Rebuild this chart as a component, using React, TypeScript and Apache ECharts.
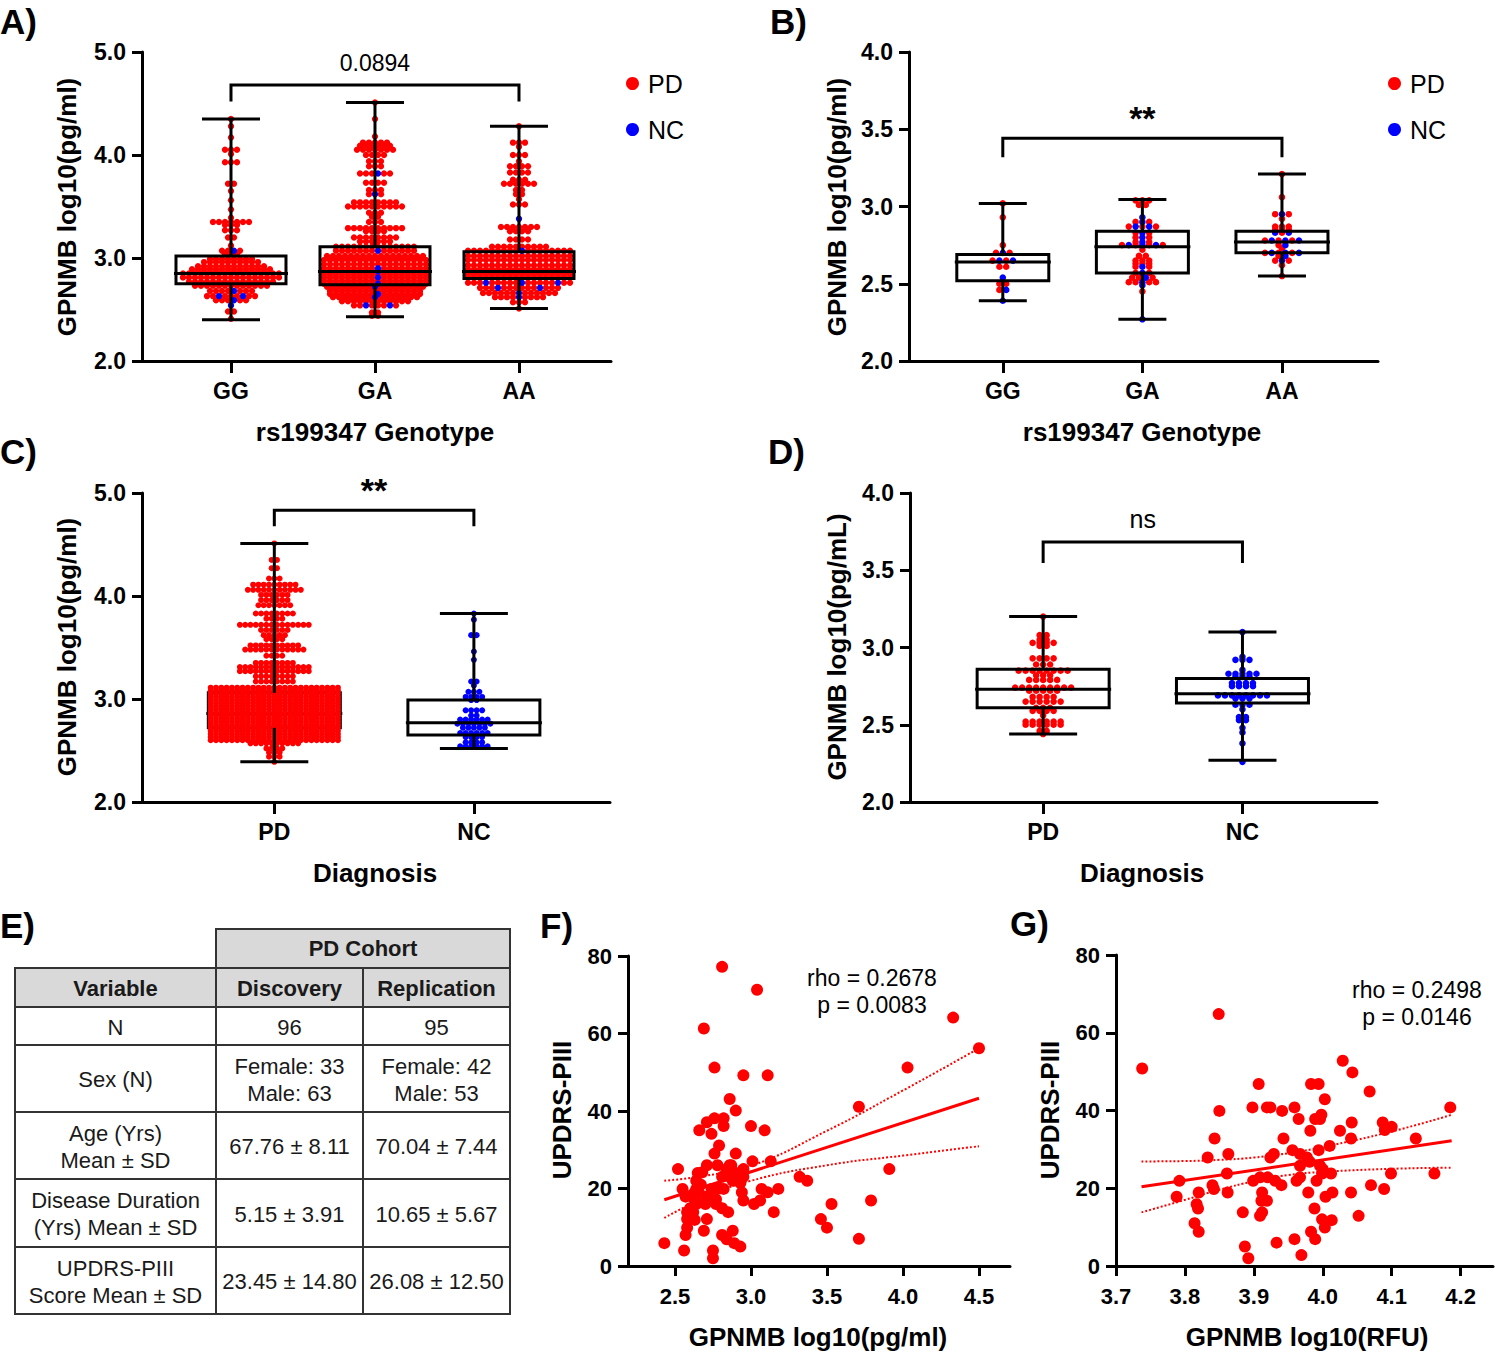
import React, { useEffect, useRef } from "react";
import * as echarts from "echarts";

const FONT = "'Liberation Sans', Arial, Helvetica, sans-serif";
const RED = "#ff0000";
const BLUE = "#0000ff";

// ---------- category / tick labels ----------
const genotypeLabels = ["GG", "GA", "AA"];
const diagnosisLabels = ["PD", "NC"];
const ticksF = [2.5, 3.0, 3.5, 4.0, 4.5];
const ticksG = [3.7, 3.8, 3.9, 4.0, 4.1, 4.2];

// ---------- box statistics: [position, min, q1, median, q3, max] ----------
const boxA = [
  [1, 2.40, 2.75, 2.85, 3.02, 4.35],
  [2, 2.43, 2.74, 2.87, 3.11, 4.51],
  [3, 2.51, 2.80, 2.87, 3.06, 4.28],
];
const boxB = [
  [1, 2.39, 2.52, 2.64, 2.69, 3.02],
  [2, 2.27, 2.57, 2.74, 2.84, 3.045],
  [3, 2.55, 2.70, 2.77, 2.84, 3.21],
];
const boxC_PD = [[1, 2.39, 2.72, 2.86, 3.06, 4.51]];
const boxC_NC = [[2, 2.52, 2.65, 2.77, 2.99, 3.83]];
const boxD = [
  [1, 2.44, 2.61, 2.73, 2.86, 3.20],
  [2, 2.27, 2.64, 2.70, 2.80, 3.10],
];

// ---------- swarm rows: [value, PD count, NC count] ----------
const swarmA_GG = [
  [4.35, 1, 0], [4.28, 1, 0], [4.17, 1, 0], [4.05, 3, 0], [4.01, 1, 0], [3.93, 3, 0], [3.72, 2, 0],
  [3.65, 1, 0], [3.56, 1, 0], [3.47, 1, 0], [3.39, 1, 0], [3.35, 7, 0], [3.32, 3, 0], [3.27, 3, 0],
  [3.20, 2, 0], [3.12, 1, 0], [3.07, 3, 1], [3.04, 3, 0], [2.99, 8, 0], [2.96, 10, 0], [2.92, 12, 0],
  [2.89, 14, 0], [2.85, 17, 0], [2.81, 17, 0], [2.77, 15, 0], [2.73, 13, 0], [2.68, 7, 1], [2.63, 7, 2],
  [2.59, 5, 1], [2.54, 0, 1], [2.48, 2, 0], [2.41, 1, 0],
];
const swarmA_GA = [
  [4.51, 1, 0], [4.35, 1, 0], [4.18, 1, 0], [4.12, 5, 0], [4.09, 6, 0], [4.05, 7, 0], [4.00, 4, 0],
  [3.94, 3, 0], [3.89, 3, 0], [3.82, 5, 1], [3.73, 4, 0], [3.66, 3, 0], [3.62, 2, 1], [3.54, 8, 0],
  [3.50, 10, 0], [3.44, 3, 0], [3.40, 2, 0], [3.35, 3, 0], [3.29, 10, 0], [3.26, 4, 0], [3.20, 8, 0],
  [3.16, 6, 0], [3.11, 14, 0], [3.07, 13, 1], [3.02, 17, 0], [2.98, 18, 0], [2.94, 18, 0], [2.90, 17, 1],
  [2.87, 17, 1], [2.84, 18, 0], [2.81, 17, 1], [2.78, 18, 0], [2.75, 17, 1], [2.72, 16, 1], [2.68, 16, 0],
  [2.65, 15, 1], [2.62, 14, 1], [2.58, 12, 0], [2.54, 6, 2], [2.47, 2, 0], [2.44, 2, 0],
];
const swarmA_AA = [
  [4.28, 1, 0], [4.12, 3, 0], [4.08, 1, 0], [4.00, 3, 0], [3.94, 1, 0], [3.89, 4, 0], [3.83, 4, 0],
  [3.76, 3, 0], [3.72, 6, 0], [3.66, 2, 0], [3.62, 2, 0], [3.57, 1, 0], [3.52, 3, 0], [3.38, 0, 1],
  [3.30, 7, 0], [3.26, 4, 0], [3.18, 4, 0], [3.11, 10, 0], [3.07, 17, 1], [3.02, 18, 0], [2.98, 18, 0],
  [2.93, 18, 0], [2.89, 18, 0], [2.86, 18, 0], [2.84, 18, 0], [2.81, 18, 0], [2.76, 15, 3], [2.71, 12, 2],
  [2.66, 12, 1], [2.62, 8, 1], [2.57, 3, 0], [2.51, 1, 0],
];
const swarmB_GG = [
  [3.02, 1, 0], [2.93, 1, 0], [2.75, 1, 0], [2.70, 2, 1], [2.65, 2, 2], [2.61, 2, 0], [2.54, 0, 1],
  [2.50, 2, 0], [2.46, 1, 1], [2.39, 0, 1],
];
const swarmB_GA = [
  [3.04, 3, 0], [3.01, 2, 0], [2.93, 0, 1], [2.90, 2, 1], [2.87, 3, 2], [2.83, 2, 1], [2.80, 2, 1],
  [2.77, 2, 1], [2.75, 4, 3], [2.72, 1, 0], [2.68, 2, 0], [2.65, 3, 0], [2.63, 3, 0], [2.61, 2, 1],
  [2.57, 2, 1], [2.54, 3, 1], [2.51, 4, 1], [2.49, 0, 1], [2.45, 1, 0], [2.27, 0, 1],
];
const swarmB_AA = [
  [3.21, 1, 0], [3.06, 1, 0], [2.95, 2, 1], [2.92, 1, 0], [2.87, 3, 0], [2.85, 3, 0], [2.83, 1, 2],
  [2.78, 3, 3], [2.75, 1, 1], [2.73, 1, 0], [2.70, 3, 3], [2.68, 1, 1], [2.65, 2, 1], [2.62, 1, 0],
  [2.55, 1, 0],
];
const swarmC_PD = [
  [4.51, 1, 0], [4.35, 2, 0], [4.27, 2, 0], [4.17, 3, 0], [4.11, 9, 0], [4.06, 11, 0], [4.01, 6, 0],
  [3.96, 6, 0], [3.91, 7, 0], [3.83, 8, 0], [3.78, 4, 0], [3.72, 14, 0], [3.67, 6, 0], [3.62, 5, 0],
  [3.58, 4, 0], [3.52, 10, 0], [3.48, 12, 0], [3.42, 4, 0], [3.35, 8, 0], [3.31, 14, 0], [3.27, 14, 0],
  [3.22, 8, 0], [3.17, 8, 0], [3.11, 25, 0], [3.08, 25, 0], [3.05, 25, 0], [3.02, 25, 0], [2.99, 25, 0],
  [2.96, 25, 0], [2.93, 25, 0], [2.90, 25, 0], [2.87, 25, 0], [2.84, 25, 0], [2.81, 25, 0], [2.78, 25, 0],
  [2.75, 25, 0], [2.72, 25, 0], [2.69, 25, 0], [2.66, 25, 0], [2.63, 25, 0], [2.60, 25, 0], [2.57, 10, 0],
  [2.52, 4, 0], [2.48, 3, 0], [2.44, 3, 0], [2.39, 1, 0],
];
const swarmC_NC = [
  [3.83, 0, 1], [3.77, 0, 1], [3.62, 0, 2], [3.46, 0, 1], [3.38, 0, 1], [3.17, 0, 2], [3.13, 0, 1],
  [3.07, 0, 3], [3.02, 0, 4], [2.99, 0, 2], [2.89, 0, 4], [2.84, 0, 2], [2.80, 0, 6], [2.76, 0, 7],
  [2.72, 0, 5], [2.67, 0, 6], [2.63, 0, 4], [2.58, 0, 4], [2.54, 0, 6],
];
const swarmD_PD = [
  [3.20, 1, 0], [3.08, 2, 0], [3.05, 2, 0], [3.03, 4, 0], [3.01, 2, 0], [2.93, 4, 0], [2.89, 3, 0],
  [2.85, 8, 0], [2.82, 3, 0], [2.79, 5, 0], [2.74, 9, 0], [2.72, 5, 0], [2.68, 4, 0], [2.65, 6, 0],
  [2.61, 3, 0], [2.59, 4, 0], [2.56, 1, 0], [2.52, 6, 0], [2.50, 6, 0], [2.46, 2, 0], [2.44, 1, 0],
];
const swarmD_NC = [
  [3.10, 0, 1], [2.94, 0, 1], [2.92, 0, 3], [2.855, 0, 1], [2.83, 0, 5], [2.81, 0, 3], [2.77, 0, 4],
  [2.75, 0, 4], [2.69, 0, 8], [2.67, 0, 3], [2.63, 0, 3], [2.60, 0, 1], [2.55, 0, 2], [2.53, 0, 2],
  [2.48, 0, 1], [2.45, 0, 1], [2.38, 0, 1], [2.26, 0, 1],
];

// ---------- significance brackets: [from, to, bar value, leg end value] ----------
const sigA = [1, 3, 4.68, 4.52];
const sigB = [1, 3, 3.441, 3.318];
const sigC = [1, 2, 4.832, 4.677];
const sigD = [1, 2, 3.683, 3.547];
const sigLabels = ["0.0894", "**", "**", "ns"];

// ---------- scatter F ----------
const scatterF = [
  [2.81, 77.2], [3.04, 71.3], [2.69, 61.3], [4.33, 64.1], [4.50, 56.2], [2.76, 51.2], [2.95, 49.2],
  [3.11, 49.2], [4.03, 51.2], [2.86, 43.1], [2.90, 40.1], [3.71, 41.1], [2.71, 37.1], [2.76, 38.1],
  [2.82, 38.1], [2.82, 36.1], [2.66, 35.0], [2.74, 34.1], [3.00, 36.1], [3.09, 35.0], [2.79, 31.1],
  [2.76, 29.0], [2.90, 29.0], [3.13, 27.0], [3.01, 27.0], [2.71, 26.0], [2.78, 26.0], [2.86, 26.0],
  [2.52, 25.0], [3.91, 25.0], [2.65, 24.0], [2.84, 25.0], [2.95, 25.0], [2.81, 23.0], [2.95, 23.0],
  [3.32, 23.0], [3.37, 22.0], [2.64, 22.0], [2.88, 22.0], [2.55, 19.9], [2.64, 19.9], [2.74, 19.9],
  [2.82, 19.9], [3.07, 19.9], [3.18, 19.9], [2.94, 19.0], [3.11, 19.0], [2.57, 17.9], [2.63, 17.9],
  [3.79, 16.9], [2.71, 17.9], [2.95, 16.9], [3.06, 16.9], [2.70, 16.0], [2.77, 16.0], [2.81, 14.9],
  [3.02, 16.0], [3.53, 16.0], [2.58, 13.9], [2.62, 13.9], [2.85, 13.9], [3.15, 13.9], [2.58, 12.1],
  [2.71, 12.1], [2.63, 11.9], [3.46, 12.1], [2.58, 9.9], [2.69, 9.1], [2.88, 9.1], [3.50, 9.9],
  [2.57, 8.0], [2.81, 8.0], [2.84, 6.9], [2.89, 5.9], [2.93, 5.0], [2.43, 5.9], [3.71, 7.0],
  [2.56, 4.0], [2.75, 4.0], [2.75, 2.0], [2.60, 14.9], [2.64, 16.0], [2.63, 19.0], [2.66, 18.8],
  [2.61, 13.0], [2.71, 16.6], [2.90, 24.0], [2.85, 23.2], [2.93, 21.4], [2.67, 21.0], [2.87, 26.0],
  [2.63, 17.0], [2.68, 24.2], [2.79, 20.0], [2.77, 17.2],
];
const fitF = [[2.43, 17.1], [4.50, 43.3]];
const ciUpperF = [[2.43, 22.0], [2.7, 23.3], [3.0, 25.8], [3.5, 34.9], [4.0, 45.3], [4.5, 56.2]];
const ciLowerF = [[2.43, 12.4], [2.7, 17.7], [3.0, 22.0], [3.5, 26.0], [4.0, 28.5], [4.5, 30.9]];
const statsF = "rho = 0.2678\np = 0.0083";

// ---------- scatter G ----------
const scatterG = [
  [3.738, 50.8], [3.849, 64.8], [4.029, 52.8], [4.043, 49.8], [3.907, 46.8], [3.983, 46.8], [3.994, 46.8],
  [4.068, 44.9], [4.003, 42.9], [3.898, 40.8], [3.919, 40.8], [3.924, 40.8], [3.959, 40.8], [4.185, 40.8],
  [3.850, 39.9], [3.941, 39.9], [3.998, 38.9], [3.965, 37.8], [3.989, 37.8], [3.996, 37.8], [4.087, 36.9],
  [4.042, 36.9], [4.100, 35.8], [4.090, 35.0], [4.025, 34.8], [3.982, 34.8], [3.843, 32.8], [3.943, 32.8],
  [4.041, 32.8], [4.135, 32.8], [4.010, 30.9], [3.994, 29.8], [3.956, 29.8], [3.929, 28.8], [3.863, 28.8],
  [3.967, 28.8], [3.833, 27.9], [3.924, 27.9], [3.977, 27.9], [3.981, 26.8], [3.967, 25.8], [3.996, 25.8],
  [4.000, 24.9], [3.861, 23.8], [4.012, 23.8], [4.099, 23.8], [4.162, 23.8], [3.999, 23.8], [3.967, 22.8],
  [3.909, 22.8], [3.920, 22.8], [3.792, 21.9], [3.899, 21.9], [3.931, 21.9], [3.962, 21.9], [3.991, 21.9],
  [3.840, 20.8], [3.940, 20.8], [4.070, 20.8], [3.842, 19.8], [4.089, 19.8], [3.820, 18.9], [3.862, 18.9],
  [3.912, 18.9], [3.979, 18.9], [4.014, 18.9], [4.041, 18.9], [4.004, 17.8], [3.788, 17.8], [3.911, 16.8],
  [3.919, 16.8], [3.817, 15.9], [3.819, 14.8], [3.988, 14.8], [3.884, 13.8], [3.912, 13.8], [3.909, 12.9],
  [4.052, 12.9], [3.814, 11.0], [3.999, 12.0], [4.013, 11.8], [4.003, 9.9], [3.820, 8.8], [3.983, 8.8],
  [3.989, 6.9], [3.933, 6.0], [3.959, 6.9], [3.887, 5.0], [3.969, 2.8], [3.892, 2.0],
];
const fitG = [[3.737, 20.4], [4.187, 32.2]];
const ciUpperG = [[3.737, 26.9], [3.8, 27.0], [3.85, 27.3], [3.9, 27.9], [3.95, 29.0], [4.0, 30.6], [4.1, 34.6], [4.187, 38.9]];
const ciLowerG = [[3.737, 13.8], [3.8, 17.0], [3.85, 19.6], [3.9, 21.8], [3.95, 23.4], [4.0, 24.2], [4.1, 25.0], [4.187, 25.3]];
const statsG = "rho = 0.2498\np = 0.0146";

// ---------- table E ----------
const tableGroupHeader = "PD Cohort";
const tableHeader = ["Variable", "Discovery", "Replication"];
const tableRows = [
  ["N", "96", "95"],
  ["Sex (N)", "Female: 33\nMale: 63", "Female: 42\nMale: 53"],
  ["Age (Yrs)\nMean ± SD", "67.76 ± 8.11", "70.04 ± 7.44"],
  ["Disease Duration\n(Yrs) Mean ± SD", "5.15 ± 3.91", "10.65 ± 5.67"],
  ["UPDRS-PIII\nScore Mean ± SD", "23.45 ± 14.80", "26.08 ± 12.50"],
];

// ---------- layout (pixels) ----------
const tableColX = [15, 216, 363, 510];
const tableRowY = [929, 968, 1007, 1045, 1112, 1179, 1247, 1314];

function buildSwarm(pos: number, rows: number[][]) {
  const pd: number[][] = [];
  const nc: number[][] = [];
  rows.forEach(([v, p, c]) => {
    const n = p + c;
    const ncIdx = new Set<number>();
    for (let k = 0; k < c; k++) ncIdx.add(Math.min(n - 1, Math.floor(((k + 0.5) * n) / c)));
    for (let i = 0; i < n; i++) {
      const slot = i - (n - 1) / 2;
      (ncIdx.has(i) ? nc : pd).push([pos, v, slot]);
    }
  });
  return { pd, nc };
}

function mergeSwarms(list: { pd: number[][]; nc: number[][] }[]) {
  return {
    pd: list.flatMap((s) => s.pd),
    nc: list.flatMap((s) => s.nc),
  };
}

const lineSt = { stroke: "#000", lineWidth: 3, fill: "none" };

// parts: "all" | "box" (rect + median) | "whisker" (whiskers + caps)
function boxSeries(grid: number, data: number[][], half: number, cap: number, z: number, parts = "all") {
  return {
    type: "custom",
    xAxisIndex: grid,
    yAxisIndex: grid,
    z,
    silent: true,
    data,
    encode: { x: 0, y: [1, 5] },
    renderItem: (_p: any, api: any) => {
      const x = api.value(0);
      const c = (v: number) => api.coord([x, v]);
      const [cx, yMin] = c(api.value(1));
      const yQ1 = c(api.value(2))[1];
      const yMed = c(api.value(3))[1];
      const yQ3 = c(api.value(4))[1];
      const yMax = c(api.value(5))[1];
      const whiskers = [
        { type: "line", shape: { x1: cx, y1: yMax, x2: cx, y2: yQ3 }, style: lineSt },
        { type: "line", shape: { x1: cx, y1: yQ1, x2: cx, y2: yMin }, style: lineSt },
        { type: "line", shape: { x1: cx - cap, y1: yMax, x2: cx + cap, y2: yMax }, style: lineSt },
        { type: "line", shape: { x1: cx - cap, y1: yMin, x2: cx + cap, y2: yMin }, style: lineSt },
      ];
      const box = [
        { type: "rect", shape: { x: cx - half, y: yQ3, width: 2 * half, height: yQ1 - yQ3 }, style: lineSt },
        { type: "line", shape: { x1: cx - half - 2, y1: yMed, x2: cx + half + 2, y2: yMed }, style: lineSt },
      ];
      const children = parts === "box" ? box : parts === "whisker" ? whiskers : [...whiskers, ...box];
      return { type: "group", children };
    },
  };
}

function swarmSeries(name: string, grid: number, pts: number[][], color: string, spacing: number, r: number, z: number) {
  return {
    type: "custom",
    name,
    xAxisIndex: grid,
    yAxisIndex: grid,
    z,
    silent: true,
    data: pts,
    itemStyle: { color },
    encode: { x: 0, y: 1 },
    renderItem: (_p: any, api: any) => {
      const p = api.coord([api.value(0), api.value(1)]);
      return {
        type: "circle",
        shape: { cx: p[0] + api.value(2) * spacing, cy: p[1], r },
        style: { fill: color },
      };
    },
  };
}

function bracketSeries(grid: number, spec: number[], label: string, fontSize: number, fontWeight: string, gap: number) {
  return {
    type: "custom",
    xAxisIndex: grid,
    yAxisIndex: grid,
    z: 6,
    silent: true,
    data: [spec],
    encode: { x: [0, 1], y: [2, 3] },
    renderItem: (_p: any, api: any) => {
      const a = api.coord([api.value(0), api.value(2)]);
      const b = api.coord([api.value(1), api.value(2)]);
      const yl = api.coord([api.value(0), api.value(3)])[1];
      return {
        type: "group",
        children: [
          {
            type: "polyline",
            shape: { points: [[a[0], yl], [a[0], a[1]], [b[0], b[1]], [b[0], yl]] },
            style: { stroke: "#000", lineWidth: 3, fill: "none" },
          },
          {
            type: "text",
            style: {
              text: label,
              x: (a[0] + b[0]) / 2,
              y: a[1] - gap,
              align: "center",
              verticalAlign: "middle",
              fontSize,
              fontWeight,
              fontFamily: FONT,
              fill: "#000",
            },
          },
        ],
      };
    },
  };
}

const axisLine = { show: true, onZero: false, lineStyle: { color: "#000", width: 3 } };
const labelBase = { color: "#000", fontWeight: "bold", fontFamily: FONT };

function catXAxis(grid: number, min: number, max: number, labels: string[]) {
  const vals = labels.map((_, i) => i + 1);
  return {
    type: "value",
    gridIndex: grid,
    min,
    max,
    axisLine,
    splitLine: { show: false },
    axisTick: { show: true, customValues: vals, length: 12, lineStyle: { color: "#000", width: 3 } },
    axisLabel: {
      ...labelBase,
      fontSize: 23,
      margin: 18,
      customValues: vals,
      formatter: (v: number) => labels[Math.round(v) - 1] ?? "",
    },
  };
}

function numXAxis(grid: number, min: number, max: number, ticks: number[]) {
  return {
    type: "value",
    gridIndex: grid,
    min,
    max,
    axisLine,
    splitLine: { show: false },
    axisTick: { show: true, customValues: ticks, length: 10, lineStyle: { color: "#000", width: 3 } },
    axisLabel: {
      ...labelBase,
      fontSize: 22,
      margin: 19,
      customValues: ticks,
      formatter: (v: number) => v.toFixed(1),
    },
  };
}

function valYAxis(grid: number, min: number, max: number, interval: number, decimals: number, fontSize: number) {
  return {
    type: "value",
    gridIndex: grid,
    min,
    max,
    interval,
    axisLine,
    splitLine: { show: false },
    axisTick: { show: true, length: 10, lineStyle: { color: "#000", width: 3 } },
    axisLabel: {
      ...labelBase,
      fontSize,
      margin: 16,
      formatter: (v: number) => v.toFixed(decimals),
    },
  };
}

function titleText(x: number, y: number, text: string, vertical: boolean) {
  return {
    type: "text",
    x,
    y,
    rotation: vertical ? Math.PI / 2 : 0,
    style: {
      text,
      align: "center",
      verticalAlign: "middle",
      fontSize: 26,
      fontWeight: "bold",
      fontFamily: FONT,
      fill: "#000",
    },
  };
}

function panelLetter(x: number, y: number, text: string) {
  return {
    type: "text",
    x,
    y,
    style: { text, align: "left", verticalAlign: "middle", fontSize: 35, fontWeight: "bold", fontFamily: FONT, fill: "#000" },
  };
}

function buildTable() {
  const els: any[] = [];
  const border = { stroke: "#333", lineWidth: 2 };
  const gray = "#d9d9d9";
  const txt = (x: number, y: number, text: string, bold: boolean) => ({
    type: "text",
    x,
    y,
    z: 10,
    style: {
      text,
      align: "center",
      verticalAlign: "middle",
      fontSize: 22,
      lineHeight: 27,
      fontWeight: bold ? "bold" : "normal",
      fontFamily: FONT,
      fill: "#1a1a1a",
    },
  });
  els.push({
    type: "rect",
    shape: { x: tableColX[1], y: tableRowY[0], width: tableColX[3] - tableColX[1], height: tableRowY[1] - tableRowY[0] },
    style: { fill: gray, ...border },
  });
  els.push(txt((tableColX[1] + tableColX[3]) / 2, (tableRowY[0] + tableRowY[1]) / 2, tableGroupHeader, true));
  for (let c = 0; c < 3; c++) {
    els.push({
      type: "rect",
      shape: { x: tableColX[c], y: tableRowY[1], width: tableColX[c + 1] - tableColX[c], height: tableRowY[2] - tableRowY[1] },
      style: { fill: gray, ...border },
    });
    els.push(txt((tableColX[c] + tableColX[c + 1]) / 2, (tableRowY[1] + tableRowY[2]) / 2 + 1, tableHeader[c], true));
  }
  tableRows.forEach((row, r) => {
    const y0 = tableRowY[r + 2];
    const y1 = tableRowY[r + 3];
    for (let c = 0; c < 3; c++) {
      els.push({
        type: "rect",
        shape: { x: tableColX[c], y: y0, width: tableColX[c + 1] - tableColX[c], height: y1 - y0 },
        style: { fill: "#fff", ...border },
      });
      els.push(txt((tableColX[c] + tableColX[c + 1]) / 2, (y0 + y1) / 2 + 1, row[c], false));
    }
  });
  return els;
}

export default function App() {
  const ref = useRef<HTMLDivElement>(null);

  useEffect(() => {
    if (!ref.current) return;
    const chart = echarts.init(ref.current, null, { renderer: "svg" });

    const swA = mergeSwarms([buildSwarm(1, swarmA_GG), buildSwarm(2, swarmA_GA), buildSwarm(3, swarmA_AA)]);
    const swB = mergeSwarms([buildSwarm(1, swarmB_GG), buildSwarm(2, swarmB_GA), buildSwarm(3, swarmB_AA)]);
    const swC = mergeSwarms([buildSwarm(1, swarmC_PD), buildSwarm(2, swarmC_NC)]);
    const swD = mergeSwarms([buildSwarm(1, swarmD_PD), buildSwarm(2, swarmD_NC)]);

    const lineSeries = (grid: number, data: number[][], dotted: boolean, smooth: boolean) => ({
      type: "line",
      xAxisIndex: grid,
      yAxisIndex: grid,
      data,
      smooth,
      showSymbol: false,
      symbol: "none",
      silent: true,
      z: 4,
      lineStyle: dotted ? { color: RED, width: 2, type: "dotted" } : { color: RED, width: 3 },
    });

    const scatterSeries = (grid: number, data: number[][]) => ({
      type: "scatter",
      xAxisIndex: grid,
      yAxisIndex: grid,
      data,
      symbolSize: 12,
      silent: true,
      z: 3,
      itemStyle: { color: RED, opacity: 1 },
    });

    const legendBase = {
      orient: "vertical",
      icon: "circle",
      itemWidth: 13,
      itemHeight: 13,
      itemGap: 21,
      selectedMode: false,
      data: diagnosisLabels,
      textStyle: { fontSize: 25, color: "#000", fontFamily: FONT, padding: [0, 0, 0, 4] },
    };

    const option: any = {
      animation: false,
      backgroundColor: "#ffffff",
      textStyle: { fontFamily: FONT },
      grid: [
        { left: 142, top: 52, width: 469, height: 309 },
        { left: 909, top: 52, width: 469, height: 309 },
        { left: 142, top: 493, width: 468, height: 309 },
        { left: 910, top: 493, width: 467, height: 309 },
        { left: 628, top: 956, width: 382, height: 310 },
        { left: 1116, top: 955, width: 377, height: 311 },
      ],
      xAxis: [
        catXAxis(0, 0.382, 3.639, genotypeLabels),
        catXAxis(1, 0.328, 3.688, genotypeLabels),
        catXAxis(2, 0.337, 2.682, diagnosisLabels),
        catXAxis(3, 0.332, 2.675, diagnosisLabels),
        numXAxis(4, 2.191, 4.704, ticksF),
        numXAxis(5, 3.7, 4.247, ticksG),
      ],
      yAxis: [
        valYAxis(0, 2, 5, 1, 1, 23),
        valYAxis(1, 2, 4, 0.5, 1, 23),
        valYAxis(2, 2, 5, 1, 1, 23),
        valYAxis(3, 2, 4, 0.5, 1, 23),
        valYAxis(4, 0, 80, 20, 0, 22),
        valYAxis(5, 0, 80, 20, 0, 22),
      ],
      legend: [
        { ...legendBase, left: 621, top: 66 },
        { ...legendBase, left: 1383, top: 66 },
      ],
      graphic: {
        elements: [
          panelLetter(0, 21, "A)"),
          panelLetter(770, 21, "B)"),
          panelLetter(0, 451, "C)"),
          panelLetter(768, 451, "D)"),
          panelLetter(0, 925, "E)"),
          panelLetter(540, 925, "F)"),
          panelLetter(1010, 923, "G)"),
          titleText(375, 432, "rs199347 Genotype", false),
          titleText(67, 207, "GPNMB log10(pg/ml)", true),
          titleText(1142, 432, "rs199347 Genotype", false),
          titleText(837, 207, "GPNMB log10(pg/ml)", true),
          titleText(375, 873, "Diagnosis", false),
          titleText(67, 647, "GPNMB log10(pg/ml)", true),
          titleText(1142, 873, "Diagnosis", false),
          titleText(837, 647, "GPNMB log10(pg/mL)", true),
          titleText(818, 1337, "GPNMB log10(pg/ml)", false),
          titleText(562, 1110, "UPDRS-PIII", true),
          titleText(1307, 1337, "GPNMB log10(RFU)", false),
          titleText(1050, 1110, "UPDRS-PIII", true),
          {
            type: "text",
            x: 872,
            y: 991,
            style: { text: statsF, align: "center", verticalAlign: "middle", fontSize: 23, lineHeight: 27, fontFamily: FONT, fill: "#000" },
          },
          {
            type: "text",
            x: 1417,
            y: 1003,
            style: { text: statsG, align: "center", verticalAlign: "middle", fontSize: 23, lineHeight: 27, fontFamily: FONT, fill: "#000" },
          },
          ...buildTable(),
        ],
      },
      series: [
        // A
        swarmSeries("PD", 0, swA.pd, RED, 6.0, 3.2, 3),
        swarmSeries("NC", 0, swA.nc, BLUE, 6.0, 3.2, 3),
        boxSeries(0, boxA, 55, 29, 5),
        bracketSeries(0, sigA, sigLabels[0], 23, "normal", 22),
        // B
        swarmSeries("PD", 1, swB.pd, RED, 6.8, 3.3, 3),
        swarmSeries("NC", 1, swB.nc, BLUE, 6.8, 3.3, 3),
        boxSeries(1, boxB, 46, 24, 5),
        bracketSeries(1, sigB, sigLabels[1], 34, "bold", 20),
        // C
        boxSeries(2, boxC_PD, 66, 34, 1, "box"),
        swarmSeries("PD", 2, swC.pd, RED, 5.3, 3.0, 3),
        swarmSeries("NC", 2, swC.nc, BLUE, 5.5, 3.0, 3),
        boxSeries(2, boxC_PD, 66, 34, 5, "whisker"),
        boxSeries(2, boxC_NC, 66, 34, 5),
        bracketSeries(2, sigC, sigLabels[2], 34, "bold", 20),
        // D
        swarmSeries("PD", 3, swD.pd, RED, 7.0, 3.3, 3),
        swarmSeries("NC", 3, swD.nc, BLUE, 7.0, 3.3, 3),
        boxSeries(3, boxD, 66, 34, 5),
        bracketSeries(3, sigD, sigLabels[3], 25, "normal", 23),
        // F
        scatterSeries(4, scatterF),
        lineSeries(4, fitF, false, false),
        lineSeries(4, ciUpperF, true, true),
        lineSeries(4, ciLowerF, true, true),
        // G
        scatterSeries(5, scatterG),
        lineSeries(5, fitG, false, false),
        lineSeries(5, ciUpperG, true, true),
        lineSeries(5, ciLowerG, true, true),
      ],
    };

    chart.setOption(option);
    return () => chart.dispose();
  }, []);

  return (
    <div
      ref={ref}
      style={{ position: "absolute", left: 0, top: 0, width: 1500, height: 1352, background: "#fff" }}
    />
  );
}
